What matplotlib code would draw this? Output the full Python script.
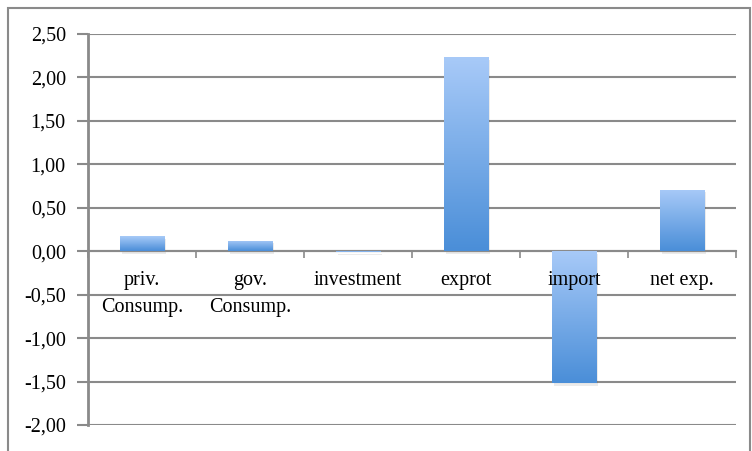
import numpy as np
import matplotlib.pyplot as plt
import matplotlib.transforms as mtransforms
from matplotlib.colors import LinearSegmentedColormap
from matplotlib.patches import Rectangle

categories = ["priv.\nConsump.", "gov.\nConsump.", "investment", "exprot", "import", "net exp."]
values = [0.17, 0.12, -0.01, 2.23, -1.52, 0.71]
yticks = [-2.0, -1.5, -1.0, -0.5, 0.0, 0.5, 1.0, 1.5, 2.0, 2.5]

grey = "#8a8a8a"
plt.rcParams["font.family"] = ["Liberation Serif", "DejaVu Serif"]
cmap = LinearSegmentedColormap.from_list("bar", ["#4a8ed8", "#a8caf8"])

fig = plt.figure(figsize=(7.52, 4.51), dpi=100)
# outer chart frame (bottom edge is off the picture)
fig.patches.append(Rectangle((8 / 752, -0.05), 742 / 752, 443 / 451 + 0.05, transform=fig.transFigure,
                             fill=False, edgecolor=grey, linewidth=1.5))
ax = fig.add_axes([88 / 752, 26 / 451, 648 / 752, 391 / 451])

x = np.arange(len(categories))
width = 0.41
grad = np.linspace(0, 1, 256).reshape(-1, 1)
for xi, v in zip(x, values):
    lo, hi = min(0, v), max(0, v)
    # soft shadow
    ax.add_patch(Rectangle((xi - width / 2 + 0.02, lo - 0.03), width, hi - lo,
                           facecolor="#000000", alpha=0.08, edgecolor="none", zorder=2))
    rect = Rectangle((xi - width / 2, lo), width, hi - lo, facecolor="none", edgecolor="none", zorder=3)
    ax.add_patch(rect)
    im = ax.imshow(grad, cmap=cmap, aspect="auto", origin="lower",
                   extent=(xi - width / 2, xi + width / 2, lo, hi), zorder=3)
    im.set_clip_path(rect)

# category labels drawn as text so they sit on top of the bars
offset = mtransforms.offset_copy(ax.transData, fig=fig, x=0, y=-20, units="dots")
for xi, lab in zip(x, categories):
    ax.text(xi, 0, lab, transform=offset, ha="center", va="top", fontsize=14.5,
            linespacing=1.55, zorder=5)

ax.set_xlim(-0.5, len(categories) - 0.5)
ax.set_ylim(-2.0, 2.5)
ax.set_yticks(yticks)
ax.set_yticklabels([f"{t:.2f}".replace(".", ",") for t in yticks], fontsize=14.5)
ax.yaxis.grid(True, color=grey, linewidth=1.5)
ax.set_axisbelow(True)

ax.set_xticks([])
ax.set_xticks(np.arange(len(categories) + 1) - 0.5, minor=True)
ax.tick_params(axis="x", which="minor", length=5, width=1.2, color=grey)
ax.tick_params(axis="y", length=8, width=1.5, color=grey, pad=8)

for s in ["top", "right"]:
    ax.spines[s].set_visible(False)
ax.spines["bottom"].set_position(("data", 0))
ax.spines["bottom"].set_color(grey)
ax.spines["bottom"].set_linewidth(1.5)
ax.spines["left"].set_color(grey)
ax.spines["left"].set_linewidth(2)

fig.savefig("out.png", dpi=100)
